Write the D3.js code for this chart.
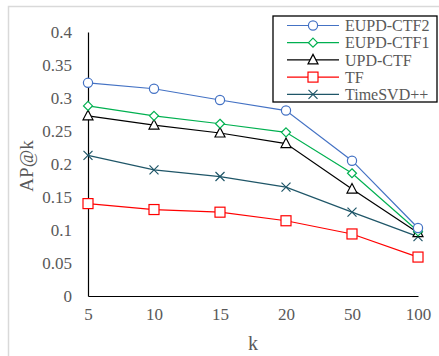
<!DOCTYPE html>
<html><head><meta charset="utf-8">
<script src="https://cdn.jsdelivr.net/npm/d3@7"></script>
<style>body{margin:0;background:#fff}svg{display:block}svg text{font-family:'Liberation Serif','Times New Roman',serif !important}</style>
</head><body>
<svg id="c" width="439" height="356"></svg>
<script>
const categories = ["5","10","15","20","50","100"];
const seriesNames = ["EUPD-CTF2","EUPD-CTF1","UPD-CTF","TF","TimeSVD++"];
const eupdCtf2 = [0.323,0.314,0.297,0.281,0.205,0.103];
const eupdCtf1 = [0.288,0.273,0.261,0.248,0.186,0.098];
const updCtf   = [0.273,0.259,0.247,0.231,0.162,0.096];
const tf       = [0.140,0.131,0.127,0.114,0.094,0.059];
const timeSvd  = [0.213,0.191,0.181,0.165,0.127,0.090];
const yTicks = [0,0.05,0.1,0.15,0.2,0.25,0.3,0.35,0.4];
const yTickLabels = ["0","0.05","0.1","0.15","0.2","0.25","0.3","0.35","0.4"];

const series = [
  {name: seriesNames[0], values: eupdCtf2, color:"#4472c4", marker:"circle"},
  {name: seriesNames[1], values: eupdCtf1, color:"#00b050", marker:"diamond"},
  {name: seriesNames[2], values: updCtf,   color:"#000000", marker:"triangle"},
  {name: seriesNames[3], values: tf,       color:"#ff0000", marker:"square"},
  {name: seriesNames[4], values: timeSvd,  color:"#1f5668", marker:"x"}
];

const svg = d3.select("#c");
svg.append("rect").attr("x",8.5).attr("y",6.5).attr("width",440).attr("height",360)
  .attr("fill","none").attr("stroke","#d9d9d9").attr("stroke-width",1.5);

const x = d3.scalePoint().domain(categories).range([88,418]);
const y = d3.scaleLinear().domain([0,0.4]).range([296,32]);

const gray = "#595959";
const ya = svg.append("g").attr("transform","translate(88,0)")
  .call(d3.axisLeft(y).tickValues(yTicks).tickFormat((d,i)=>yTickLabels[i]).tickSize(0).tickPadding(16));
ya.attr("font-family","Liberation Serif").attr("font-size",17);
ya.select(".domain").attr("stroke","#000").attr("stroke-width",1.2);
ya.selectAll("text").attr("fill",gray);
const xa = svg.append("g").attr("transform","translate(0,296)")
  .call(d3.axisBottom(x).tickSize(0).tickPadding(12));
xa.attr("font-family","Liberation Serif").attr("font-size",17);
xa.select(".domain").attr("stroke","#000").attr("stroke-width",1.2);
xa.selectAll("text").attr("fill",gray);

svg.append("text").attr("x",253).attr("y",350).attr("text-anchor","middle")
  .attr("fill",gray).attr("font-size",20).text("k");
svg.append("text").attr("transform","translate(33,166) rotate(-90)").attr("text-anchor","middle")
  .attr("fill",gray).attr("font-size",19).text("AP@k");

function drawMarker(g, type, cx, cy, color){
  const s = 4.5;
  if(type==="circle") g.append("circle").attr("cx",cx).attr("cy",cy).attr("r",4.6).attr("fill","#fff").attr("stroke",color).attr("stroke-width",1.2);
  else if(type==="diamond") g.append("path").attr("d",`M${cx},${cy-4.5}L${cx+4.5},${cy}L${cx},${cy+4.5}L${cx-4.5},${cy}Z`).attr("fill","#fff").attr("stroke",color).attr("stroke-width",1.2);
  else if(type==="triangle") g.append("path").attr("d",`M${cx},${cy-5.5}L${cx+5},${cy+4}L${cx-5},${cy+4}Z`).attr("fill","#fff").attr("stroke",color).attr("stroke-width",1.2);
  else if(type==="square") g.append("rect").attr("x",cx-5).attr("y",cy-5).attr("width",10).attr("height",10).attr("fill","#fff").attr("stroke",color).attr("stroke-width",1.2);
  else if(type==="x") g.append("path").attr("d",`M${cx-s},${cy-s}L${cx+s},${cy+s}M${cx-s},${cy+s}L${cx+s},${cy-s}`).attr("stroke",color).attr("stroke-width",1.2);
}

const line = d3.line().x((d,i)=>x(categories[i])).y(d=>y(d));
series.slice().reverse().forEach(s=>{
  const g = svg.append("g");
  g.append("path").attr("d",line(s.values)).attr("fill","none").attr("stroke",s.color).attr("stroke-width",1.2);
  s.values.forEach((v,i)=>drawMarker(g,s.marker,x(categories[i]),y(v),s.color));
});

const lg = svg.append("g");
lg.append("rect").attr("x",273).attr("y",16).attr("width",164).attr("height",86)
  .attr("fill","#fff").attr("stroke","#000").attr("stroke-width",1.3);
series.forEach((s,i)=>{
  const cy = 25.5 + i*17.2;
  lg.append("line").attr("x1",287).attr("x2",339).attr("y1",cy).attr("y2",cy).attr("stroke",s.color).attr("stroke-width",1.2);
  drawMarker(lg,s.marker,313,cy,s.color);
  lg.append("text").attr("x",345).attr("y",cy).attr("dy","0.35em").attr("fill",gray).attr("font-size",16).text(s.name);
});
</script>
</body></html>
